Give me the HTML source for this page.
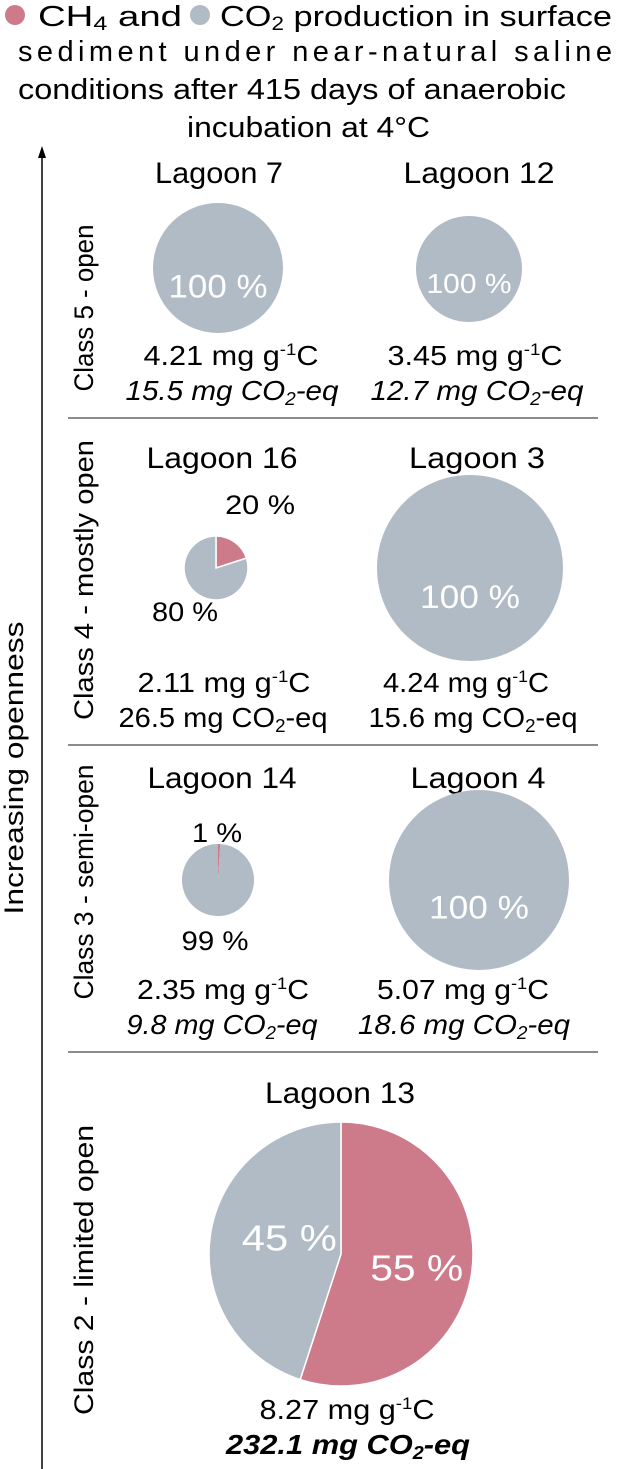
<!DOCTYPE html>
<html><head><meta charset="utf-8"><style>
html,body{margin:0;padding:0;background:#fff}
svg{display:block;font-family:"Liberation Sans",Arial,sans-serif}
</style></head><body>
<svg id="chart" width="617" height="1469" viewBox="0 0 617 1469">
<g font-size="29" fill="#000">
  <circle cx="15" cy="15" r="10" fill="#cd7b8a"/>
  <text x="38" y="26" textLength="144" lengthAdjust="spacingAndGlyphs">CH<tspan font-size="19" dy="4">4</tspan><tspan dy="-4"> and</tspan></text>
  <circle cx="200" cy="15" r="10" fill="#b0bbc5"/>
  <text x="220" y="26" textLength="392" lengthAdjust="spacingAndGlyphs">CO<tspan font-size="19" dy="4">2</tspan><tspan dy="-4"> production in surface</tspan></text>
  <text x="18" y="61" textLength="594" lengthAdjust="spacing">sediment under near-natural saline</text>
  <text x="18" y="99" textLength="548" lengthAdjust="spacingAndGlyphs">conditions after 415 days of anaerobic</text>
  <text x="187" y="137" textLength="243" lengthAdjust="spacingAndGlyphs">incubation at 4°C</text>
</g>
<g>
  <line x1="42" y1="152" x2="42" y2="1469" stroke="#000" stroke-width="1.5"/>
  <path d="M38,158 L42,146 L46,158 Z" fill="#000"/>
  <text transform="translate(23,768) rotate(-90)" text-anchor="middle" font-size="27" textLength="293" lengthAdjust="spacingAndGlyphs">Increasing openness</text>
</g>
<g stroke="#666" stroke-width="1.5">
  <line x1="68" y1="418" x2="598" y2="418"/>
  <line x1="68" y1="745" x2="598" y2="745"/>
  <line x1="68" y1="1052" x2="598" y2="1052"/>
</g>
<g font-size="27">
  <text transform="translate(93,308) rotate(-90)" text-anchor="middle" textLength="167" lengthAdjust="spacingAndGlyphs">Class 5 - open</text>
  <text transform="translate(93,580) rotate(-90)" text-anchor="middle" textLength="280" lengthAdjust="spacingAndGlyphs">Class 4 - mostly open</text>
  <text transform="translate(93,882) rotate(-90)" text-anchor="middle" textLength="235" lengthAdjust="spacingAndGlyphs">Class 3 - semi-open</text>
  <text transform="translate(93,1270) rotate(-90)" text-anchor="middle" textLength="290" lengthAdjust="spacingAndGlyphs">Class 2 - limited open</text>
</g>
<g id="pies"></g>
</svg>
<script>
const lagoons = ["Lagoon 7","Lagoon 12","Lagoon 16","Lagoon 3","Lagoon 14","Lagoon 4","Lagoon 13"];
const ch4Share = [0,0,20,0,1,0,55];
const co2Share = [100,100,80,100,99,100,45];
const totalC = ["4.21","3.45","2.11","4.24","2.35","5.07","8.27"];
const co2eq = ["15.5","12.7","26.5","15.6","9.8","18.6","232.1"];
const eqStyle = ["italic","italic","normal","normal","italic","italic","bolditalic"];
const cx = [218,469,216,470,218,479,341];
const cy = [268,269,568,568,880,880,1254];
const rad = [65,53,32,93,36,90,132];
const titleY = [183,183,468,468,788,788,1103];
const titleX = [219,479,222,477,222,478,340];
const titleW = [128,151,151,136,149,135,150];
const textX1 = [231,475,224,466,223,463,347];
const textX2 = [232,477,223,473,222,464,348];
const textY = [365,365,692,692,999,999,1419];
const textW1 = [175,175,173,166,172,172,175];
const textW2 = [213,213,209,209,191,212,244];
const labelMode = ["in","in","out","in","out","in","in"];
const NS = "http://www.w3.org/2000/svg";
const g = document.getElementById('pies');
function mk(tag, attrs, parent){const e=document.createElementNS(NS,tag);for(const k in attrs)e.setAttribute(k,attrs[k]);(parent||g).appendChild(e);return e;}
function pt(x,y,r,f){const a=f*2*Math.PI;return [x+r*Math.sin(a), y-r*Math.cos(a)];}
lagoons.forEach((name,i)=>{
  const grp = mk('g',{});
  
  
  const t = mk('text',{x:titleX[i],y:titleY[i],'text-anchor':'middle','font-size':30,textLength:titleW[i],lengthAdjust:'spacingAndGlyphs'},grp);
  t.textContent = name;
  
  
  const tot = ch4Share[i]+co2Share[i];
  const fc = ch4Share[i]/tot;
  const x=cx[i], y=cy[i], r=rad[i];
  if (fc<=0){
    const c = mk('circle',{cx:x,cy:y,r:r,fill:'#b0bbc5'},grp);
    
    
  } else {
    const [px,py]=pt(x,y,r,fc);
    const big1 = fc>0.5?1:0, big2 = fc<0.5?1:0;
    const s1 = mk('path',{d:`M${x},${y} L${x},${y-r} A${r},${r} 0 ${big1} 1 ${px},${py} Z`,fill:'#cd7b8a',stroke:'#fff','stroke-width':1.5},grp);
    
    
    const s2 = mk('path',{d:`M${x},${y} L${px},${py} A${r},${r} 0 ${big2} 1 ${x},${y-r} Z`,fill:'#b0bbc5',stroke:'#fff','stroke-width':1.5},grp);
    
    
    if (fc<0.05){ s1.setAttribute('stroke','none'); s2.setAttribute('stroke','none'); }
  }
  if (labelMode[i]==="in"){
    if (fc<=0){
      const w = r>80?100:(r>60?99:85);
      const fs = r>60?32:28;
      const l = mk('text',{x:x,y:y+r*0.45+(r>80?-2:0),'text-anchor':'middle','font-size':fs,fill:'#fff',textLength:w,lengthAdjust:'spacingAndGlyphs'},grp);
      l.textContent = co2Share[i]+' %';
      
      
    } else {
      const [ax,ay]=pt(x,y,r*0.55,fc/2);
      const l1 = mk('text',{x:ax+4,y:ay+15,'text-anchor':'middle','font-size':36,fill:'#fff',textLength:93,lengthAdjust:'spacingAndGlyphs'},grp);
      l1.textContent = ch4Share[i]+' %';
      
      
      const [bx,by]=pt(x,y,r*0.55,fc+(1-fc)/2);
      const l2 = mk('text',{x:bx+20,y:by+8,'text-anchor':'middle','font-size':36,fill:'#fff',textLength:95,lengthAdjust:'spacingAndGlyphs'},grp);
      l2.textContent = co2Share[i]+' %';
      
      
    }
  } else {
    const [ax,ay]=pt(x,y,r+26,fc/2);
    const small = fc<0.05;
    const l1 = mk('text',{x:small?x-1:ax+10,y:small?y-38:ay-7,'text-anchor':'middle','font-size':27,textLength:small?50:70,lengthAdjust:'spacingAndGlyphs'},grp);
    l1.textContent = ch4Share[i]+' %';
    
    
    const l2 = mk('text',{x:small?x-3:x-31,y:y+r+(small?34:21),'text-anchor':'middle','font-size':27,textLength:small?67:66,lengthAdjust:'spacingAndGlyphs'},grp);
    l2.textContent = co2Share[i]+' %';
    
    
  }
  const a = mk('text',{x:textX1[i],y:textY[i],'text-anchor':'middle','font-size':28,textLength:textW1[i],lengthAdjust:'spacingAndGlyphs'},grp);
  a.innerHTML = totalC[i]+' mg g<tspan font-size="17" dy="-10">-1</tspan><tspan dy="10">C</tspan>';
  
  
  const st = eqStyle[i];
  const b = mk('text',{x:textX2[i],y:textY[i]+35,'text-anchor':'middle','font-size':28,'font-style':st==='normal'?'normal':'italic','font-weight':st==='bolditalic'?'bold':'normal',textLength:textW2[i],lengthAdjust:'spacingAndGlyphs'},grp);
  b.innerHTML = co2eq[i]+' mg CO<tspan font-size="18" dy="5">2</tspan><tspan dy="-5">-eq</tspan>';
  
  
});
</script>
</body></html>
